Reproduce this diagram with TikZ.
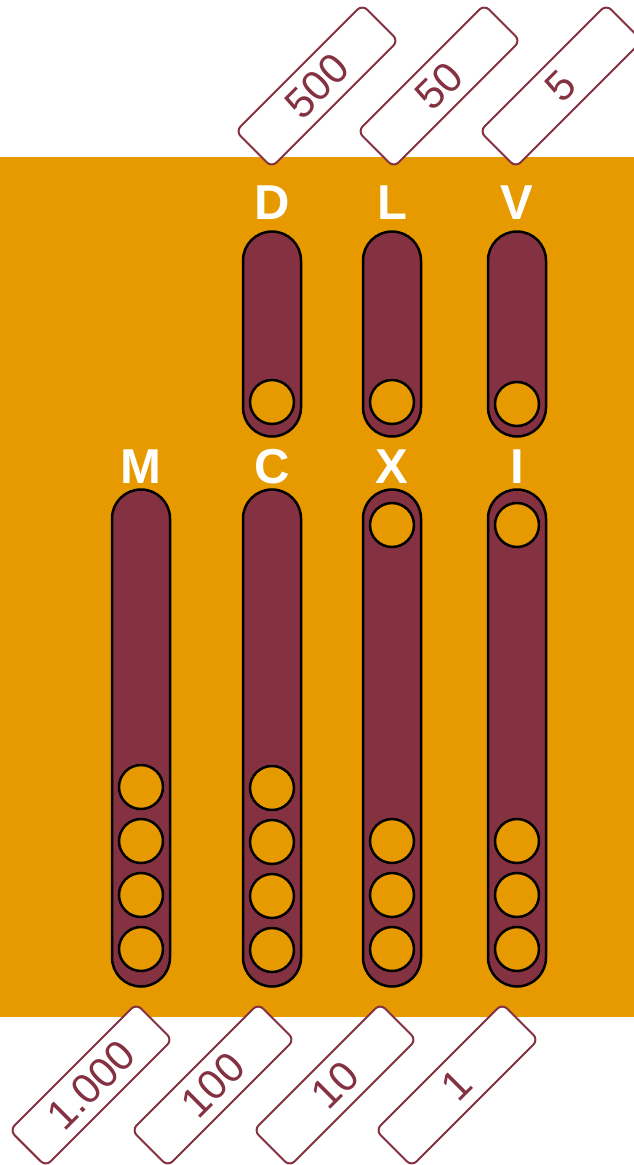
\documentclass[tikz,border=0pt]{standalone}
\usepackage{fontspec}
\setmainfont{Liberation Sans}
\definecolor{abacusorange}{RGB}{230,154,0}
\definecolor{abacusred}{RGB}{132,49,66}
\begin{document}
\begin{tikzpicture}[x=1pt, y=1pt,
  rod/.style={draw=black, fill=abacusred, line width=2.5pt, rounded corners=29pt, minimum width=58pt, inner sep=0pt},
  bead/.style={draw=black, fill=abacusorange, line width=2.5pt, circle, minimum size=44pt, inner sep=0pt},
  letter/.style={text=white, font=\fontsize{49}{49}\selectfont\bfseries, anchor=base, inner sep=0pt},
  tag/.style={draw=abacusred, fill=white, text=abacusred, line width=2pt, rounded corners=7pt, rotate=45, minimum width=179pt, minimum height=51pt, inner sep=0pt, font=\fontsize{42}{42}\selectfont}]
\useasboundingbox (0,0) rectangle (634,-1165);
\fill[abacusorange] (0,-157) rectangle (634,-1017);
% upper rods
\node[letter] (d) at (272,-219) {D};
\node[letter] (l) at (392,-219) {L};
\node[letter] (v) at (517,-219) {V};
\node[rod, minimum height=205pt] (rodd) at (272,-334) {};
\node[rod, minimum height=205pt] (rodl) at (392,-334) {};
\node[rod, minimum height=205pt] (rodv) at (517,-334) {};
\node[bead] (d1) at (272,-402) {};
\node[bead] (l1) at (392,-402) {};
\node[bead] (v1) at (517,-404) {};
% lower rods
\node[letter] (m) at (141,-483) {M};
\node[letter] (c) at (272,-483) {C};
\node[letter] (x) at (392,-483) {X};
\node[letter] (i) at (517,-483) {I};
\node[rod, minimum height=497pt] (rodm) at (141,-738) {};
\node[rod, minimum height=497pt] (rodc) at (272,-738) {};
\node[rod, minimum height=497pt] (rodx) at (392,-738) {};
\node[rod, minimum height=497pt] (rodi) at (517,-738) {};
\node[bead] (m1) at (141,-787) {};
\node[bead] (m2) at (141,-841) {};
\node[bead] (m3) at (141,-895) {};
\node[bead] (m4) at (141,-949) {};
\node[bead] (c1) at (272,-788) {};
\node[bead] (c2) at (272,-842) {};
\node[bead] (c3) at (272,-896) {};
\node[bead] (c4) at (272,-950) {};
\node[bead] (x0) at (392,-525) {};
\node[bead] (x1) at (392,-841) {};
\node[bead] (x2) at (392,-895) {};
\node[bead] (x3) at (392,-949) {};
\node[bead] (i0) at (517,-525) {};
\node[bead] (i1) at (517,-841) {};
\node[bead] (i2) at (517,-895) {};
\node[bead] (i3) at (517,-949) {};
% value tags
\node[tag] (t500) at (317,-86) {500};
\node[tag] (t50) at (439,-86) {50};
\node[tag] (t5) at (561,-86) {5};
\node[tag] (t1000) at (91,-1085) {1.000};
\node[tag] (t100) at (213,-1085) {100};
\node[tag] (t10) at (335,-1085) {10};
\node[tag] (t1) at (457,-1085) {1};
\end{tikzpicture}
\end{document}
